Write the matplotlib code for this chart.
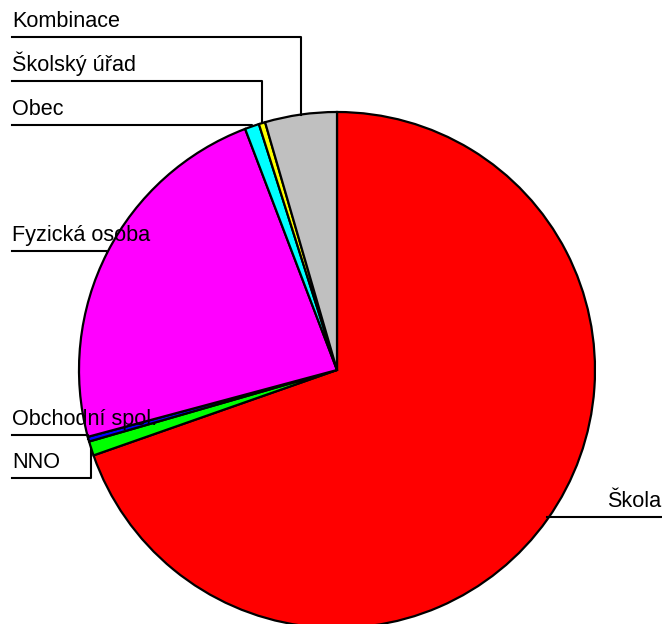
import numpy as np
import matplotlib
matplotlib.use("Agg")
import matplotlib.pyplot as plt

# slices in clockwise order starting from 12 o'clock
labels = ["Škola", "NNO", "Obchodní spol.", "Fyzická osoba", "Obec", "Školský úřad", "Kombinace"]
values = [69.7, 0.9, 0.3, 23.4, 0.9, 0.4, 4.5]
colors = ["#FF0000", "#00FF00", "#0000FF", "#FF00FF", "#00FFFF", "#FFFF00", "#C0C0C0"]

# height (px from top) of the line under each label
label_line_y = [517, 478, 435, 251, 125, 81, 37]

W, H = 662, 624
fig = plt.figure(figsize=(W / 100, H / 100), dpi=100)
ax = fig.add_axes([0, 0, 1, 1])
ax.axis("off")

cx, cy, r = 337, H - 370, 258
wedges, _ = ax.pie(values, colors=colors, startangle=90, counterclock=False,
                   center=(cx, cy), radius=r,
                   wedgeprops=dict(edgecolor="black", linewidth=1.6))
ax.set_xlim(0, W)
ax.set_ylim(0, H)
ax.set_aspect("equal")

font = ["Liberation Sans", "DejaVu Sans"]

for w, lab, ly in zip(wedges, labels, label_line_y):
    mid = np.deg2rad((w.theta1 + w.theta2) / 2)
    px = cx + r * np.cos(mid)
    py = cy + r * np.sin(mid)
    y_line = H - ly
    if px > cx:
        ax.plot([px, W], [y_line, y_line], color="black", lw=1.5)
        ax.text(W - 1, y_line + 10, lab, fontsize=15.6, ha="right", va="baseline",
                family=font)
    else:
        ax.plot([12, px, px], [y_line, y_line, py], color="black", lw=1.5)
        ax.text(12, y_line + 10, lab, fontsize=15.6, ha="left", va="baseline",
                family=font)

fig.savefig("out.png", dpi=100)
